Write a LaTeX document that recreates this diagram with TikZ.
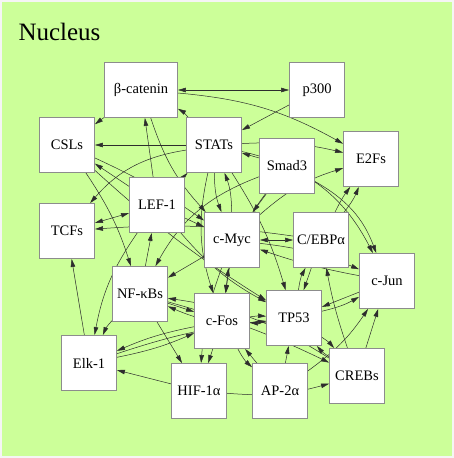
\documentclass[tikz,border=0pt]{standalone}
\usepackage{fontspec}
\setmainfont{Liberation Serif}
\usetikzlibrary{arrows.meta}
\definecolor{nucgreen}{RGB}{204,255,153}
\definecolor{boxgray}{RGB}{140,140,140}
\definecolor{edgegray}{RGB}{45,45,45}
\pgfdeclarelayer{bg}
\pgfdeclarelayer{edges}
\pgfsetlayers{bg,edges,main}
\begin{document}
\begin{tikzpicture}[x=1pt,y=-1pt,
  gene/.style={draw=boxgray,line width=0.9pt,fill=white,minimum width=55pt,minimum height=55pt,inner sep=0pt,font=\fontsize{14.5}{16}\selectfont},
  reg/.style={draw=edgegray,line width=0.5pt,-{Triangle[length=8pt,width=4.5pt]}},
  dreg/.style={draw=edgegray,line width=0.5pt,{Triangle[length=8pt,width=4.5pt]}-{Triangle[length=8pt,width=4.5pt]}}]
\useasboundingbox (0,0) rectangle (454,458);
\begin{pgfonlayer}{bg}
\fill[white!92!gray] (0,0) rectangle (454,458);
\fill[nucgreen] (2,2) rectangle (452,456);
\end{pgfonlayer}
\node[anchor=base west,font=\fontsize{25}{28}\selectfont] (title) at (15,40) {Nucleus};
\node[gene,minimum width=73pt] (bc) at (141,90) {β-catenin};
\node[gene] (p300) at (317,90) {p300};
\node[gene] (csl) at (67,145) {CSLs};
\node[gene] (stat) at (214,145) {STATs};
\node[gene] (smad) at (287,166) {Smad3};
\node[gene] (e2f) at (371,159) {E2Fs};
\node[gene] (lef) at (157,205) {LEF-1};
\node[gene] (tcf) at (67,231) {TCFs};
\node[gene] (myc) at (232,240) {c-Myc};
\node[gene] (cebp) at (321,240) {C/EBPα};
\node[gene] (jun) at (387,281) {c-Jun};
\node[gene] (nfkb) at (140,294) {NF-κBs};
\node[gene] (fos) at (222,321) {c-Fos};
\node[gene] (tp53) at (294,318) {TP53};
\node[gene] (elk) at (89,363) {Elk-1};
\node[gene] (hif) at (199,391) {HIF-1α};
\node[gene] (ap2) at (280,391) {AP-2α};
\node[gene] (creb) at (357,376) {CREBs};
\begin{pgfonlayer}{edges}
\draw[dreg] (bc) -- (p300);
\draw[reg] (p300) -- (stat);
\draw[reg] (bc) -- (csl);
\draw[reg] (bc) to[bend left=12] (e2f);
\draw[reg] (lef) -- (bc);
\draw[reg] (bc) to[bend right=12] (myc);
\draw[reg] (stat) to[bend right=10] (bc);
\draw[reg] (stat) -- (csl);
\draw[reg] (csl) to[bend left=5] (myc);
\draw[reg] (csl) to[bend right=5] (tp53);
\draw[reg] (lef) -- (csl);
\draw[reg] (lef) -- (stat);
\draw[reg] (stat) to[bend right=20] (tcf);
\draw[dreg] (tcf) -- (lef);
\draw[reg] (csl) to[bend left=8] (nfkb);
\draw[reg] (elk) -- (tcf);
\draw[reg] (hif) -- (elk);
\draw[reg] (nfkb) to[bend right=10] (elk);
\draw[reg] (lef) to[bend right=12] (elk);
\draw[reg] (fos) to[bend right=6] (elk);
\draw[reg] (elk) to[bend right=6] (fos);
\draw[reg] (elk) to[bend left=6] (tp53);
\draw[reg] (nfkb) -- (fos);
\draw[reg] (nfkb) -- (hif);
\draw[reg] (creb) to[bend right=12] (nfkb);
\draw[reg] (myc) -- (nfkb);
\draw[reg] (cebp) to[bend right=6] (tcf);
\draw[reg] (nfkb) -- (lef);
\draw[reg] (stat) to[bend right=10] (myc);
\draw[reg] (myc) to[bend right=10] (stat);
\draw[dreg] (myc) -- (cebp);
\draw[reg] (myc) to[bend left=8] (jun);
\draw[reg] (jun) to[bend left=4] (myc);
\draw[reg] (jun) -- (tp53);
\draw[reg] (cebp) -- (tp53);
\draw[reg] (tp53) to[bend left=10] (cebp);
\draw[reg] (creb) -- (jun);
\draw[reg] (ap2) to[bend right=10] (jun);
\draw[reg] (tp53) to[bend right=8] (jun);
\draw[reg] (creb) to[bend left=4] (cebp);
\draw[reg] (fos) to[bend left=6] (tp53);
\draw[reg] (tp53) to[bend left=6] (fos);
\draw[reg] (tp53) to[bend left=8] (creb);
\draw[reg] (creb) to[bend left=8] (tp53);
\draw[reg] (ap2) -- (tp53);
\draw[reg] (fos) to[bend right=10] (ap2);
\draw[reg] (smad) -- (stat);
\draw[reg] (stat) to[bend left=8] (e2f);
\draw[reg] (myc) to[bend left=12] (e2f);
\draw[reg] (cebp) to[bend left=5] (e2f);
\draw[reg] (cebp) to[bend right=8] (e2f);
\draw[reg] (smad) to[bend left=20] (jun);
\draw[reg] (stat) to[bend left=25] (jun);
\draw[reg] (smad) -- (myc);
\draw[reg] (lef) -- (myc);
\draw[reg] (myc) to[bend right=8] (hif);
\draw[dreg] (myc) -- (fos);
\draw[reg] (fos) -- (hif);
\draw[reg] (lef) to[bend right=10] (tp53);
\draw[reg] (stat) to[bend right=15] (fos);
\draw[reg] (stat) to[bend left=8] (tp53);
\draw[reg] (smad) to[bend right=20] (nfkb);
\draw[reg] (smad) to[bend right=15] (fos);
\draw[reg] (hif) to[bend right=10] (creb);
\draw[reg] (nfkb) to[bend left=5] (creb);
\draw[reg] (ap2) -- (fos);
\draw[reg] (tp53) to[bend left=15] (nfkb);
\end{pgfonlayer}
\end{tikzpicture}
\end{document}
